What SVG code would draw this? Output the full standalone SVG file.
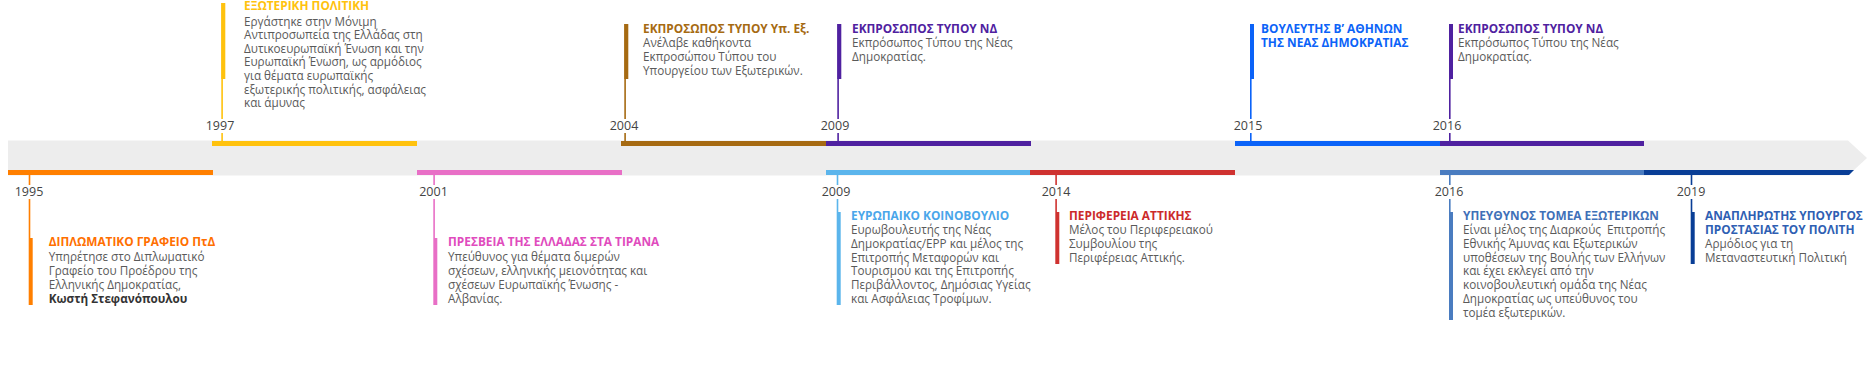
<svg xmlns="http://www.w3.org/2000/svg" width="1872" height="386" viewBox="0 0 1872 386">
<style>
text{font-family:"Open Sans","Noto Sans","DejaVu Sans",sans-serif;}
.yr{font-size:12.5px;fill:#444;text-anchor:middle;}
.t{font-size:11.85px;font-weight:700;}
.b{font-size:11.7px;fill:#5a5a5a;}
.bb{font-weight:700;fill:#333;}
.bg{fill:#fff;}
</style>
<rect width="1872" height="386" fill="#fff"/>
<g id="axis">
<polygon points="8,140.5 1848,140.5 1867,158 1848,175.5 8,175.5" fill="#ededed"/>
</g>
<g id="connectors">
<rect x="212" y="141" width="205" height="5" fill="#ffc20e"/>
<rect x="621" y="141" width="205" height="5" fill="#a66a12"/>
<rect x="826" y="141" width="205" height="5" fill="#4f21a0"/>
<rect x="1235" y="141" width="205" height="5" fill="#0b63f8"/>
<rect x="1440" y="141" width="204" height="5" fill="#4f21a0"/>
<rect x="8" y="170" width="205" height="5" fill="#ff7f00"/>
<rect x="417" y="170" width="205" height="5" fill="#e86fc6"/>
<rect x="826" y="170" width="204" height="5" fill="#5bb5ec"/>
<rect x="1030" y="170" width="205" height="5" fill="#cf3230"/>
<rect x="1440" y="170" width="204" height="5" fill="#4a7cc0"/>
<polygon points="1644,170 1854,170 1849,175 1644,175" fill="#093e96"/>
</g>
<g id="n1997">
<rect x="221.3" y="3" width="1.6" height="138" fill="#ffc20e"/>
<rect x="221.3" y="3" width="4" height="76" fill="#ffc20e"/>
<rect class="bg" x="204" y="119" width="34" height="14"/>
<text class="yr" x="220" y="130">1997</text>
<text class="t" x="244" y="10.3" fill="#ffc20e">ΕΞΩΤΕΡΙΚΗ ΠΟΛΙΤΙΚΗ</text>
<text class="b" x="244" y="25.5">Εργάστηκε στην Μόνιμη<tspan x="244" dy="13.6">Αντιπροσωπεία της Ελλάδας στη</tspan><tspan x="244" dy="13.6">Δυτικοευρωπαϊκή Ένωση και την</tspan><tspan x="244" dy="13.6">Ευρωπαϊκή Ένωση, ως αρμόδιος</tspan><tspan x="244" dy="13.6">για θέματα ευρωπαϊκής</tspan><tspan x="244" dy="13.6">εξωτερικής πολιτικής, ασφάλειας</tspan><tspan x="244" dy="13.6">και άμυνας</tspan></text>
</g>
<g id="n2004">
<rect x="624.3" y="24" width="1.6" height="117" fill="#a66a12"/>
<rect x="624.3" y="24" width="4" height="55" fill="#a66a12"/>
<rect class="bg" x="607" y="119" width="34" height="14"/>
<text class="yr" x="624" y="130">2004</text>
<text class="t" x="643" y="33.3" fill="#a66a12">ΕΚΠΡΟΣΩΠΟΣ ΤΥΠΟΥ Υπ. Εξ.</text>
<text class="b" x="643" y="47.3">Ανέλαβε καθήκοντα<tspan x="643" dy="13.7">Εκπροσώπου Τύπου του</tspan><tspan x="643" dy="13.7">Υπουργείου των Εξωτερικών.</tspan></text>
</g>
<g id="n2009top">
<rect x="837.3" y="24" width="1.6" height="117" fill="#4f21a0"/>
<rect x="837.3" y="24" width="4" height="55" fill="#4f21a0"/>
<rect class="bg" x="818" y="119" width="34" height="14"/>
<text class="yr" x="835" y="130">2009</text>
<text class="t" x="852" y="33.3" fill="#4f21a0">ΕΚΠΡΟΣΩΠΟΣ ΤΥΠΟΥ ΝΔ</text>
<text class="b" x="852" y="47.3">Εκπρόσωπος Τύπου της Νέας<tspan x="852" dy="13.7">Δημοκρατίας.</tspan></text>
</g>
<g id="n2015">
<rect x="1250" y="24" width="1.6" height="117" fill="#0b63f8"/>
<rect x="1250" y="24" width="4" height="55" fill="#0b63f8"/>
<rect class="bg" x="1231" y="119" width="34" height="14"/>
<text class="yr" x="1248" y="130">2015</text>
<text class="t" x="1261" y="33.3" fill="#0b63f8">ΒΟΥΛΕΥΤΗΣ Β’ ΑΘΗΝΩΝ<tspan x="1261" dy="13.7">ΤΗΣ ΝΕΑΣ ΔΗΜΟΚΡΑΤΙΑΣ</tspan></text>
</g>
<g id="n2016top">
<rect x="1449" y="24" width="1.6" height="117" fill="#4f21a0"/>
<rect x="1449" y="24" width="4" height="55" fill="#4f21a0"/>
<rect class="bg" x="1430" y="119" width="34" height="14"/>
<text class="yr" x="1447" y="130">2016</text>
<text class="t" x="1458" y="33.3" fill="#4f21a0">ΕΚΠΡΟΣΩΠΟΣ ΤΥΠΟΥ ΝΔ</text>
<text class="b" x="1458" y="47.3">Εκπρόσωπος Τύπου της Νέας<tspan x="1458" dy="13.7">Δημοκρατίας.</tspan></text>
</g>
<g id="n1995">
<rect x="28.7" y="175" width="1.6" height="63" fill="#ff7f00"/>
<rect x="28.7" y="238" width="4" height="67" fill="#ff7f00"/>
<rect class="bg" x="12" y="185" width="34" height="14"/>
<text class="yr" x="29" y="196">1995</text>
<text class="t" x="48.7" y="246" fill="#ff6f00">ΔΙΠΛΩΜΑΤΙΚΟ ΓΡΑΦΕΙΟ ΠτΔ</text>
<text class="b" x="48.7" y="261">Υπηρέτησε στο Διπλωματικό<tspan x="48.7" dy="14">Γραφείο του Προέδρου της</tspan><tspan x="48.7" dy="14">Ελληνικής Δημοκρατίας,</tspan><tspan class="bb" x="48.7" dy="14">Κωστή Στεφανόπουλου</tspan></text>
</g>
<g id="n2001">
<rect x="433.3" y="175" width="1.6" height="63" fill="#e86fc6"/>
<rect x="433.3" y="238" width="4" height="67" fill="#e86fc6"/>
<rect class="bg" x="416" y="185" width="34" height="14"/>
<text class="yr" x="433.5" y="196">2001</text>
<text class="t" x="448" y="246" fill="#e04bbd">ΠΡΕΣΒΕΙΑ ΤΗΣ ΕΛΛΑΔΑΣ ΣΤΑ ΤΙΡΑΝΑ</text>
<text class="b" x="448" y="261">Υπεύθυνος για θέματα διμερών<tspan x="448" dy="14">σχέσεων, ελληνικής μειονότητας και</tspan><tspan x="448" dy="14">σχέσεων Ευρωπαϊκής Ένωσης -</tspan><tspan x="448" dy="14">Αλβανίας.</tspan></text>
</g>
<g id="n2009bottom">
<rect x="836.7" y="175" width="1.6" height="37" fill="#5bb5ec"/>
<rect x="836.7" y="212" width="4" height="93" fill="#5bb5ec"/>
<rect class="bg" x="819" y="185" width="34" height="14"/>
<text class="yr" x="836" y="196">2009</text>
<text class="t" x="851" y="220" fill="#4aa6ea">ΕΥΡΩΠΑΙΚΟ ΚΟΙΝΟΒΟΥΛΙΟ</text>
<text class="b" x="851" y="234">Ευρωβουλευτής της Νέας<tspan x="851" dy="13.8">Δημοκρατίας/ΕΡΡ και μέλος της</tspan><tspan x="851" dy="13.8">Επιτροπής Μεταφορών και</tspan><tspan x="851" dy="13.8">Τουρισμού και της Επιτροπής</tspan><tspan x="851" dy="13.8">Περιβάλλοντος, Δημόσιας Υγείας</tspan><tspan x="851" dy="13.8">και Ασφάλειας Τροφίμων.</tspan></text>
</g>
<g id="n2014">
<rect x="1055.3" y="175" width="1.6" height="37" fill="#cf3230"/>
<rect x="1055.3" y="212" width="4" height="52" fill="#cf3230"/>
<rect class="bg" x="1039" y="185" width="34" height="14"/>
<text class="yr" x="1056" y="196">2014</text>
<text class="t" x="1069" y="220" fill="#cc2a2a">ΠΕΡΙΦΕΡΕΙΑ ΑΤΤΙΚΗΣ</text>
<text class="b" x="1069" y="234">Μέλος του Περιφερειακού<tspan x="1069" dy="13.8">Συμβουλίου της</tspan><tspan x="1069" dy="13.8">Περιφέρειας Αττικής.</tspan></text>
</g>
<g id="n2016bottom">
<rect x="1449" y="175" width="1.6" height="37" fill="#4a7cc0"/>
<rect x="1449" y="212" width="4" height="108" fill="#4a7cc0"/>
<rect class="bg" x="1432" y="185" width="34" height="14"/>
<text class="yr" x="1449" y="196">2016</text>
<text class="t" x="1463" y="220" fill="#3f70b8">ΥΠΕΥΘΥΝΟΣ ΤΟΜΕΑ ΕΞΩΤΕΡΙΚΩΝ</text>
<text class="b" x="1463" y="234">Είναι μέλος της Διαρκούς&#160; Επιτροπής<tspan x="1463" dy="13.8">Εθνικής Άμυνας και Εξωτερικών</tspan><tspan x="1463" dy="13.8">υποθέσεων της Βουλής των Ελλήνων</tspan><tspan x="1463" dy="13.8">και έχει εκλεγεί από την</tspan><tspan x="1463" dy="13.8">κοινοβουλευτική ομάδα της Νέας</tspan><tspan x="1463" dy="13.8">Δημοκρατίας ως υπεύθυνος του</tspan><tspan x="1463" dy="13.8">τομέα εξωτερικών.</tspan></text>
</g>
<g id="n2019">
<rect x="1690.7" y="175" width="1.6" height="37" fill="#093e96"/>
<rect x="1690.7" y="212" width="4" height="52" fill="#093e96"/>
<rect class="bg" x="1674" y="185" width="34" height="14"/>
<text class="yr" x="1691" y="196">2019</text>
<text class="t" x="1705" y="220" fill="#2f5fb3">ΑΝΑΠΛΗΡΩΤΗΣ ΥΠΟΥΡΓΟΣ<tspan x="1705" dy="13.8">ΠΡΟΣΤΑΣΙΑΣ ΤΟΥ ΠΟΛΙΤΗ</tspan></text>
<text class="b" x="1705" y="248">Αρμόδιος για τη<tspan x="1705" dy="13.8">Μεταναστευτική Πολιτική</tspan></text>
</g>
</svg>
